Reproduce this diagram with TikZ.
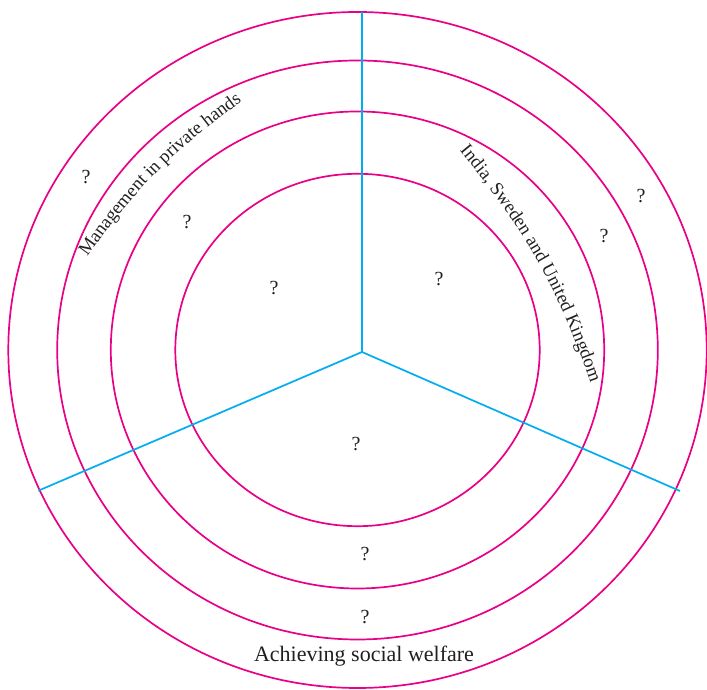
\documentclass[tikz,border=0pt]{standalone}
\usepackage{fontspec}
\setmainfont{Liberation Serif}
\usetikzlibrary{decorations.text}
\definecolor{ring}{RGB}{232,0,135}
\definecolor{spoke}{RGB}{0,174,239}
\definecolor{ink}{RGB}{35,31,32}
\begin{document}
\begin{tikzpicture}[x=1pt,y=1pt,
  ringline/.style={draw=ring,line width=1.7pt},
  spokeline/.style={draw=spoke,line width=1.7pt},
  qmark/.style={text=ink,font=\fontsize{20}{24}\selectfont,inner sep=0pt},
  bigtext/.style={text=ink,font=\fontsize{22}{26}\selectfont,inner sep=0pt},
  arctext/.style={decorate,decoration={text along path,text align=center,text={|\color{ink}\fontsize{18.6}{20}\selectfont|#1}}}]
\useasboundingbox (0,0) rectangle (707,690);
\coordinate (o) at (357.5,340);
\foreach \rx/\ry in {349.2/338, 300.3/289.5, 246.7/238.5, 182.2/176.2}
  \draw[ringline] (o) ellipse [x radius=\rx pt, y radius=\ry pt];
\coordinate (hub) at (362,338);
\coordinate (top) at (362,678.3);
\coordinate (ll) at (38.3,199.3);
\coordinate (lr) at (680,199);
\draw[spokeline] (hub) -- (top);
\draw[spokeline] (hub) -- (ll);
\draw[spokeline] (hub) -- (lr);
\node[qmark] (q1) at (86,513) {?};
\node[qmark] (q2) at (187,468) {?};
\node[qmark] (q3) at (274,402) {?};
\node[qmark] (q4) at (439,411) {?};
\node[qmark] (q5) at (641,494) {?};
\node[qmark] (q6) at (604,454) {?};
\node[qmark] (q7) at (356,246) {?};
\node[qmark] (q8) at (365,136) {?};
\node[qmark] (q9) at (365,73) {?};
\node[bigtext] (welfare) at (364,34) {Achieving social welfare};
\coordinate (ms) at (84,428);
\coordinate (me) at (247,592);
\coordinate (is) at (459,540);
\coordinate (ie) at (591,306);
\path[arctext={Management in private hands}] (ms) to[bend left=10] (me);
\path[arctext={India, Sweden and United Kingdom}] (is) to[bend left=10] (ie);
\end{tikzpicture}
\end{document}
